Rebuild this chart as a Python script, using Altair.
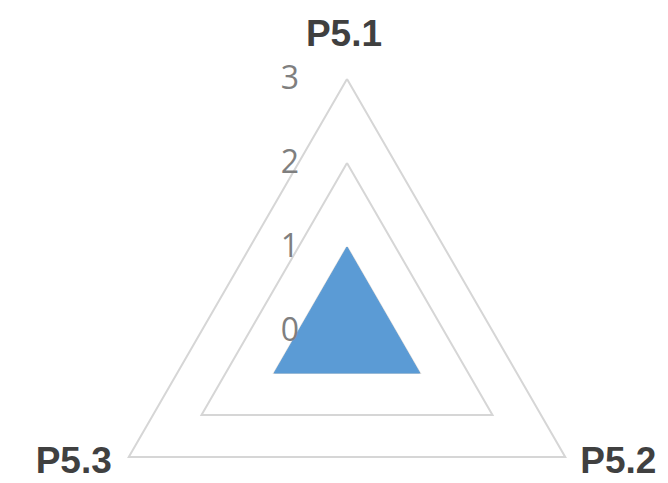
import altair as alt
import pandas as pd

# ---- data ----
categories = ["P5.1", "P5.2", "P5.3"]
values = [1, 1, 1]
tick_values = [0, 1, 2, 3]
tick_labels = ["0", "1", "2", "3"]
grid_levels = [1, 2, 3]
max_value = 3

n = len(categories)
series_df = pd.DataFrame(
    [{"i": k, "axis": categories[k % n], "r": values[k % n]} for k in range(n + 1)]
)
grid_df = pd.DataFrame(
    [{"level": lv, "i": k, "r": lv} for lv in grid_levels for k in range(n + 1)]
)
tick_df = pd.DataFrame([{"label": l, "r": v, "i": 0} for l, v in zip(tick_labels, tick_values)])
label_df = pd.DataFrame([{"axis": c, "i": k, "r": max_value} for k, c in enumerate(categories)])

W, H = 652, 474
unit = 84.0
cx, cy = 339.0, 323.0
xdom = [-cx / unit, (W - cx) / unit]
ydom = [-(H - cy) / unit, cy / unit]

X = alt.X("x:Q", scale=alt.Scale(domain=xdom, nice=False, zero=False), axis=None)
Y = alt.Y("y:Q", scale=alt.Scale(domain=ydom, nice=False, zero=False), axis=None)


def polar(ch):
    return ch.transform_calculate(
        ang=f"2*PI*datum.i/{n}"
    ).transform_calculate(
        x="datum.r*sin(datum.ang)", y="datum.r*cos(datum.ang)"
    )


grid = polar(alt.Chart(grid_df)).mark_line(
    color="#d6d6d6", strokeWidth=2
).encode(x=X, y=Y, detail="level:N", order="i:Q")

poly = polar(alt.Chart(series_df)).mark_line(
    fill="#5b9bd5", stroke="#5b9bd5", strokeWidth=1
).encode(x=X, y=Y, order="i:Q")

ticks = polar(alt.Chart(tick_df)).mark_text(
    align="right", baseline="middle", dx=-48, dy=0,
    font="Open Sans", fontSize=32, color="#7f7f7f"
).encode(x=X, y=Y, text="label:N")

label_styles = {
    "P5.1": dict(align="center", dx=-3, dy=-33),
    "P5.2": dict(align="left", dx=15, dy=16),
    "P5.3": dict(align="right", dx=-17, dy=16),
}
label_layers = []
for c in categories:
    st = label_styles[c]
    label_layers.append(
        polar(alt.Chart(label_df)).transform_filter(
            alt.datum.axis == c
        ).mark_text(
            baseline="alphabetic", font="Liberation Sans", fontWeight="bold",
            fontSize=37, color="#404040", **st
        ).encode(x=X, y=Y, text="axis:N")
    )

chart = alt.layer(grid, poly, ticks, *label_layers).properties(
    width=W, height=H, padding=0, autosize="none"
).configure_view(stroke=None)

chart.save("out.html", embed_options={"renderer": "svg", "actions": False})
